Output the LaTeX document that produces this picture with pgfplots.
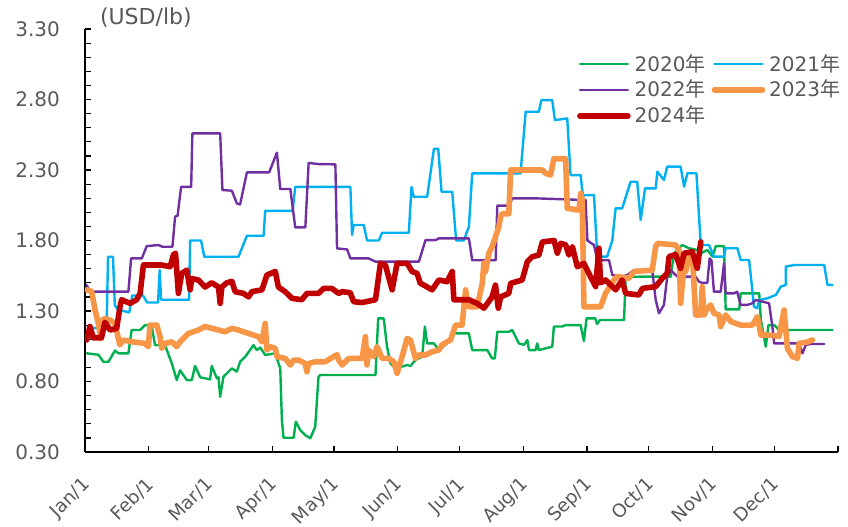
\documentclass[border=0pt]{standalone}
\usepackage{fontspec}
\setmainfont{DejaVu Sans}
\newfontfamily\jp{Noto Sans CJK JP}
\usepackage{pgfplots}
\pgfplotsset{compat=1.18}
\definecolor{c20}{HTML}{00B050}
\definecolor{c21}{HTML}{00B0F0}
\definecolor{c22}{HTML}{7030A0}
\definecolor{c23}{HTML}{F79646}
\definecolor{c24}{HTML}{C00000}
\definecolor{txt}{HTML}{595959}
\begin{document}
\begin{tikzpicture}
\begin{axis}[
 name=ax,
 scale only axis, width=376.5pt, height=211.5pt,
 xmin=0, xmax=366, ymin=0.3, ymax=3.3,
 axis lines*=left,
 axis line style={black, line width=0.6pt},
 tick align=inside, major tick length=3pt, minor tick length=3pt,
 every tick/.style={black, line width=0.6pt},
 xtick={0,31,60,91,121,152,182,213,244,274,305,335,366},
 xticklabels={Jan/1,Feb/1,Mar/1,Apr/1,May/1,Jun/1,Jul/1,Aug/1,Sep/1,Oct/1,Nov/1,Dec/1,{}},
 xticklabel style={xshift=-2pt, yshift=-7pt, rotate=45, anchor=north east, font=\fontsize{9.2}{11}\selectfont, text=txt},
 ytick={0.3,0.8,1.3,1.8,2.3,2.8,3.3},
 yticklabels={0.30,0.80,1.30,1.80,2.30,2.80,3.30},
 minor ytick={0.4,0.5,0.6,0.7,0.9,1.0,1.1,1.2,1.4,1.5,1.6,1.7,1.9,2.0,2.1,2.2,2.4,2.5,2.6,2.7,2.9,3.0,3.1,3.2},
 yticklabel style={font=\fontsize{10}{12}\selectfont, text=txt, xshift=-9pt},
 legend columns=2,
 legend style={draw=none, fill=none, at={(0.653,0.951)}, anchor=north west,
   font=\fontsize{10}{12}\selectfont, text=txt, legend cell align=left,
   inner sep=0pt, row sep=-1pt,
   /tikz/every even column/.append style={column sep=1pt}},
 legend image code/.code={\draw[#1] (0pt,0pt) -- (24pt,0pt);},
 every axis plot/.append style={line join=round, line cap=round},
]
\addplot[c20, line width=1.2pt] coordinates {
(0.8,1.00)(6.5,0.99)(8.9,0.94)(11.4,0.94)(14.6,1.02)(16.2,1.00)(21.1,1.00)(22.7,1.165)(26.8,1.165)(29.2,1.20)(32.4,1.20)(34,1.058)(38.9,1.058)(42.2,0.928)(44.6,0.81)(46.2,0.88)(49.5,0.81)(51.9,0.81)(53.5,0.91)(56,0.83)(60.8,0.815)(61.6,0.91)(64.1,0.822)(64.9,0.83)(65.7,0.692)(67.3,0.834)(71.4,0.893)(73.8,0.87)(75.4,0.94)(77.9,0.976)(81.9,1.058)(83.5,1.023)(85.2,1.04)(87.6,0.988)(92.5,1.00)(94.9,0.893)(95.7,0.527)(96.5,0.401)(101.4,0.401)(102.5,0.515)(104.6,0.456)(107,0.42)(109.5,0.397)(111.9,0.479)(113.5,0.834)(114.4,0.846)(141.2,0.846)(142.5,1.248)(145.2,1.248)(146.8,1.046)(148.5,0.928)(150.1,0.905)(154.1,0.905)(156.6,0.917)(158.2,0.91)(160.6,0.952)(163.9,0.976)(165.2,1.19)(166.3,1.07)(169.6,1.07)(172,1.023)(176,1.07)(179.3,1.141)(186.6,1.141)(188.2,1.023)(195.5,1.023)(197.9,0.964)(199.2,0.964)(200.4,1.153)(206,1.153)(207.7,1.165)(210.9,1.07)(213.4,1.06)(215,1.094)(215.8,1.023)(219,1.023)(219.8,1.07)(220.6,1.023)(227.1,1.047)(227.9,1.19)(232,1.19)(233.6,1.20)(240.9,1.20)(242.5,1.087)(243.8,1.248)(248,1.248)(248.9,1.208)(250.3,1.236)(262,1.236)(262.8,1.543)(284.7,1.544)(286.3,1.71)(290.3,1.768)(293.6,1.745)(297.6,1.733)(299.3,1.709)(302.5,1.733)(305,1.686)(306.6,1.76)(310.6,1.76)(311.4,1.312)(318,1.312)(318.7,1.425)(327.7,1.425)(328.5,1.236)(330.9,1.047)(332.2,1.20)(335,1.20)(337.4,1.165)(363.3,1.165)
};
\addlegendentry{2020{\jp 年}}
\addplot[c21, line width=1.2pt] coordinates {
(2.4,1.18)(10.5,1.18)(11.2,1.685)(13.6,1.685)(14.5,1.34)(16,1.31)(21.5,1.29)(23,1.41)(28.2,1.41)(30.2,1.36)(35.5,1.36)(36.3,1.59)(37,1.38)(50.6,1.38)(51.1,1.80)(56.4,1.80)(58,1.685)(74.6,1.685)(78.7,1.834)(86.8,1.834)(87.6,2.01)(100.9,2.01)(102.2,2.18)(129,2.18)(129.8,1.84)(130.6,1.91)(135.5,1.91)(137.1,1.80)(142.8,1.80)(144.4,1.855)(157.4,1.855)(158.7,2.18)(159.8,2.11)(166.3,2.11)(169.6,2.45)(171.7,2.45)(173.3,2.146)(178.5,2.146)(180.4,1.80)(184.1,1.80)(186.6,1.898)(188.2,2.276)(211.7,2.276)(214.2,2.713)(220.6,2.713)(221.8,2.796)(227.1,2.796)(228.4,2.654)(234.4,2.666)(236,2.264)(240.9,2.264)(242,2.12)(247.4,2.123)(249,1.686)(253.8,1.686)(256.3,1.80)(257.9,2.028)(261.1,2.028)(265.2,2.217)(268.4,2.217)(270.1,1.946)(272.2,2.17)(277.4,2.17)(278.2,2.288)(281.4,2.23)(283,2.324)(289.5,2.324)(291.2,2.182)(292.8,2.277)(297.2,2.277)(299.3,1.768)(303.3,1.768)(305.7,1.686)(310.6,1.686)(311.4,1.745)(317.1,1.745)(318.7,1.662)(322.8,1.662)(325.2,1.33)(326.8,1.32)(327.7,1.378)(331.7,1.39)(335.8,1.414)(338.2,1.473)(340.6,1.485)(340.6,1.615)(344.7,1.626)(359.3,1.626)(360.9,1.485)(363.3,1.485)
};
\addlegendentry{2021{\jp 年}}
\addplot[c22, line width=1.2pt] coordinates {
(0.8,1.484)(2.4,1.437)(21.1,1.437)(22.4,1.673)(27.6,1.673)(30,1.76)(35.7,1.768)(37.6,1.756)(42.5,1.756)(43.8,1.97)(45,1.975)(46.7,2.18)(51.6,2.18)(52.2,2.56)(65.7,2.56)(66.8,2.158)(71.4,2.153)(73.8,2.063)(75.4,2.056)(78.7,2.283)(89.5,2.283)(93.3,2.423)(94.9,2.165)(99.8,2.165)(102.2,1.893)(107.1,1.893)(108.7,2.35)(113.5,2.342)(121.7,2.34)(122.5,1.744)(127.4,1.737)(129,1.673)(137.9,1.673)(141.2,1.65)(162.3,1.65)(165.5,1.803)(170.4,1.803)(172,1.815)(186.6,1.815)(188.2,1.66)(199.6,1.66)(200.4,2.047)(206,2.047)(207.7,2.099)(219,2.099)(243.3,2.087)(244.2,1.80)(247.4,1.768)(249,1.66)(254.7,1.66)(256.3,1.555)(261.1,1.544)(263.6,1.555)(266.8,1.59)(275.7,1.59)(277.4,1.378)(279,1.284)(281.4,1.343)(283,1.544)(284.7,1.59)(287.9,1.544)(296.8,1.544)(298.4,1.508)(300,1.50)(302.5,1.50)(303.6,1.673)(304.5,1.66)(305.7,1.437)(309,1.437)(310.6,1.638)(311.4,1.425)(315.5,1.425)(317,1.437)(318.7,1.343)(321.9,1.343)(324.4,1.355)(326,1.378)(332.5,1.355)(334.1,1.19)(335,1.07)(347.1,1.07)(348.7,1.0)(350.4,1.06)(352.8,1.066)(359.3,1.066)
};
\addlegendentry{2022{\jp 年}}
\addplot[c23, line width=2.8pt] coordinates {
(0.8,1.45)(3.2,1.44)(4.9,1.307)(6.5,1.21)(7.8,1.106)(8.4,1.236)(9.7,1.247)(12.2,1.236)(14.6,1.21)(16.2,1.106)(17,1.06)(18.7,1.094)(22.7,1.082)(29.2,1.07)(30.8,1.047)(31.6,1.20)(34.9,1.20)(36.5,1.118)(37.3,1.035)(38.9,1.07)(42.2,1.082)(44.6,1.047)(46.2,1.082)(50.3,1.141)(55.1,1.165)(58.4,1.19)(61.6,1.177)(64.9,1.165)(68.1,1.153)(71.4,1.177)(74.6,1.165)(79.5,1.141)(84.3,1.118)(86,1.082)(87.6,1.212)(88.4,1.023)(90,1.047)(92.5,1.035)(93.3,0.976)(97.3,0.964)(99.8,0.917)(101.4,0.952)(103.8,0.952)(107,0.928)(107.9,0.869)(108.7,0.928)(111.9,0.94)(116.8,0.94)(120.8,0.976)(122.5,0.99)(123.3,0.952)(125,0.917)(128.2,0.964)(134.7,0.964)(136.3,1.118)(137.1,0.917)(137.9,1.023)(140.3,0.976)(142,1.047)(144.4,0.964)(147.6,0.964)(150.1,0.94)(151.7,0.858)(154.1,0.976)(156.6,1.106)(158.2,1.094)(160.6,0.964)(162.3,0.988)(165.5,0.988)(168.7,1.011)(172,1.023)(173.6,1.06)(176,1.082)(177.7,1.094)(180.1,1.20)(183.3,1.20)(185,1.45)(185.8,1.354)(186.6,1.33)(190.6,1.33)(193.1,1.496)(193.9,1.64)(194.7,1.58)(196.3,1.71)(197.9,1.756)(199.6,1.83)(201.2,1.90)(202,1.969)(202.8,1.99)(206,1.99)(206.9,2.30)(222.3,2.30)(223.9,2.276)(226.3,2.264)(227.9,2.38)(233.6,2.38)(234.4,2.028)(240.1,2.016)(240.9,2.134)(241.7,2.09)(242.5,1.33)(246.5,1.33)(250.6,1.33)(253,1.425)(257.1,1.52)(258.7,1.544)(264.4,1.532)(266.8,1.58)(275.7,1.59)(277.4,1.757)(278.2,1.78)(287.1,1.768)(288.7,1.733)(289.5,1.355)(291.2,1.638)(292,1.58)(293.6,1.709)(295.2,1.709)(296.8,1.272)(299.3,1.272)(300,1.473)(300.9,1.272)(302.5,1.32)(304.1,1.343)(305.7,1.284)(308.2,1.272)(309,1.19)(311.4,1.272)(313.9,1.225)(318.7,1.20)(324.4,1.20)(326.8,1.26)(328.5,1.13)(331.7,1.13)(337.4,1.12)(339.8,1.307)(341.4,1.035)(343.9,0.976)(346.3,0.965)(347.1,1.07)(351.2,1.08)(353.6,1.095)
};
\addlegendentry{2023{\jp 年}}
\addplot[c24, line width=2.8pt] coordinates {
(0.8,1.094)(2.4,1.19)(4,1.11)(8,1.11)(9.7,1.22)(12.2,1.165)(15.4,1.177)(17,1.33)(17.8,1.38)(21.9,1.354)(25.1,1.38)(26.8,1.425)(28.4,1.626)(37.3,1.626)(41.4,1.614)(43,1.70)(44,1.71)(45.4,1.425)(47,1.567)(49.5,1.59)(51.1,1.45)(51.9,1.53)(55.1,1.52)(58.4,1.47)(61.6,1.50)(64.9,1.47)(65.7,1.354)(66.5,1.47)(68.9,1.50)(71.4,1.51)(73,1.437)(77,1.425)(79.5,1.40)(81.1,1.437)(86,1.45)(88.4,1.555)(92.5,1.58)(94,1.47)(97.3,1.437)(100.6,1.39)(105.4,1.38)(107.9,1.425)(113.5,1.425)(116,1.46)(120,1.46)(123.3,1.425)(125,1.437)(128.9,1.43)(130.6,1.366)(134.7,1.36)(141.2,1.38)(143.6,1.638)(146,1.626)(149.3,1.45)(151.7,1.638)(156.6,1.638)(159,1.58)(161.4,1.567)(163,1.496)(164.7,1.484)(168.7,1.45)(172,1.52)(176,1.508)(178.5,1.58)(179.3,1.38)(186.6,1.38)(190.6,1.354)(193.9,1.32)(197.9,1.40)(199.5,1.484)(200.9,1.32)(202,1.40)(206,1.425)(206.9,1.496)(210.1,1.51)(212.5,1.52)(215,1.65)(217.4,1.685)(220.6,1.697)(222.3,1.79)(228,1.80)(229.6,1.71)(231.2,1.78)(233.6,1.77)(235.2,1.697)(236.9,1.756)(239.3,1.614)(242.5,1.638)(244.9,1.567)(248.2,1.473)(249.8,1.745)(250.6,1.50)(253,1.52)(255.5,1.485)(257.9,1.45)(261.1,1.52)(262.8,1.425)(269.2,1.414)(270.9,1.46)(277.4,1.473)(280.6,1.532)(283,1.567)(283.9,1.686)(287.1,1.70)(289.5,1.603)(291.2,1.71)(295.2,1.72)(297.6,1.603)(299.3,1.79)
};
\addlegendentry{2024{\jp 年}}
\end{axis}
\node[anchor=west, text=txt, font=\fontsize{11}{13}\selectfont] at ([xshift=4pt, yshift=5.75pt]ax.north west) {(USD/lb)};
\pgfresetboundingbox
\useasboundingbox (-42.5pt,-37pt) rectangle (381.5pt,226pt);
\end{tikzpicture}
\end{document}
